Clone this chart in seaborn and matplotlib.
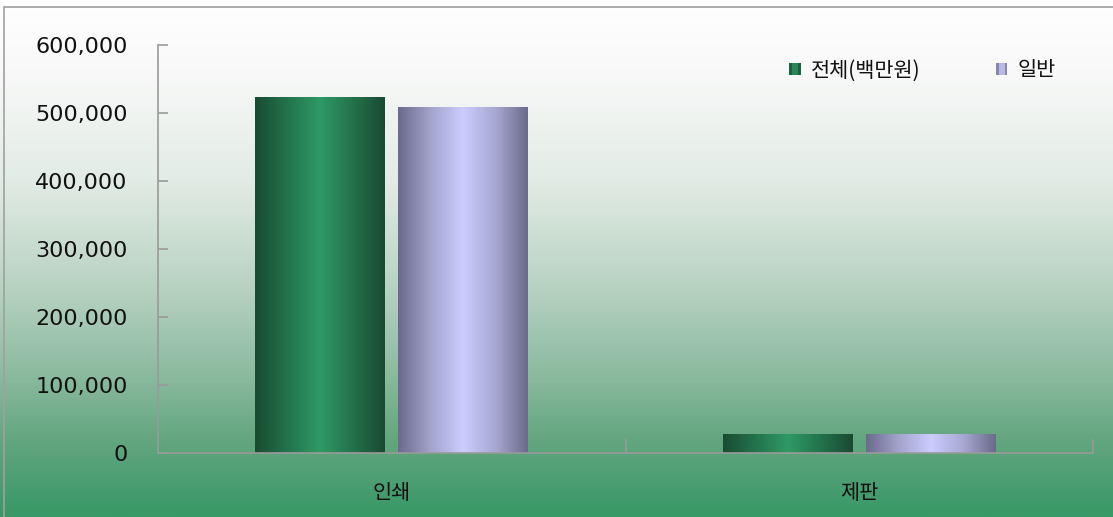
import numpy as np
import pandas as pd
import matplotlib
matplotlib.use("Agg")
import matplotlib.pyplot as plt
from matplotlib.colors import LinearSegmentedColormap
from matplotlib.patches import Rectangle, Patch
from matplotlib.legend_handler import HandlerBase
from matplotlib.ticker import FuncFormatter
import seaborn as sns

# Data (백만원)
categories = ["인쇄", "제판"]
series_names = ["전체(백만원)", "일반"]
total_values = [523500, 26500]
general_values = [508800, 26500]
y_ticks = [0, 100000, 200000, 300000, 400000, 500000, 600000]

df = pd.DataFrame({
    "category": categories * 2,
    "series": [series_names[0]] * 2 + [series_names[1]] * 2,
    "value": total_values + general_values,
})

sns.set_theme(style="white")
plt.rcParams["font.family"] = ["Noto Sans CJK KR", "DejaVu Sans"]

W, H = 1113, 517
fig = plt.figure(figsize=(W / 100, H / 100), dpi=100)

# Figure background: vertical white-to-green gradient
bg = fig.add_axes([0, 0, 1, 1], zorder=0)
bg_cmap = LinearSegmentedColormap.from_list(
    "bg",
    [(0.0, "#ffffff"), (0.15, "#f7f8f7"), (0.35, "#e2ebe5"),
     (0.55, "#b9d3c3"), (0.72, "#8dbba0"), (0.85, "#64a680"),
     (1.0, "#389866")],
)
grad = np.linspace(0, 1, 512).reshape(-1, 1)
bg.imshow(grad, aspect="auto", cmap=bg_cmap, extent=[0, 1, 0, 1], origin="upper")
bg.set_xlim(0, 1)
bg.set_ylim(0, 1)
bg.axis("off")
# outer frame
bg.add_patch(Rectangle((4 / W, -0.1), 1.2, (H - 7) / H + 0.1, fill=False,
                       edgecolor="#a0a0a0", linewidth=1.2, transform=bg.transAxes))

left, right = 158 / W, 1093 / W
bottom, top = (H - 453) / H, (H - 45) / H
ax = fig.add_axes([left, bottom, right - left, top - bottom], zorder=1)
ax.patch.set_alpha(0)

palette = {series_names[0]: "#2e9966", series_names[1]: "#ccccff"}
sns.barplot(data=df, x="category", y="value", hue="series", order=categories,
            hue_order=series_names, palette=palette, width=0.611, gap=0.091,
            ax=ax, legend=False, saturation=1)

# Cylinder-style horizontal shading on each bar
shade_maps = {
    series_names[0]: LinearSegmentedColormap.from_list(
        "g", ["#1a4c33", "#23734c", "#2f9966", "#23734c", "#1a4a32"]),
    series_names[1]: LinearSegmentedColormap.from_list(
        "p", ["#6a6a8c", "#a3a3cc", "#ccccff", "#a8a8d2", "#6a6a8a"]),
}
hrow = np.linspace(0, 1, 256).reshape(1, -1)
patches = list(ax.patches)
for i, p in enumerate(patches):
    name = series_names[i // len(categories)]
    x0, y0 = p.get_x(), p.get_y()
    w, h = p.get_width(), p.get_height()
    ax.imshow(hrow, cmap=shade_maps[name], aspect="auto",
              extent=[x0, x0 + w, y0, y0 + h], zorder=2, interpolation="bilinear")
    p.set_visible(False)

ax.set_xlim(-0.5, 1.5)
ax.set_ylim(0, 600000)
ax.set_yticks(y_ticks)
ax.yaxis.set_major_formatter(FuncFormatter(lambda v, _: f"{int(v):,}"))
ax.set_xlabel("")
ax.set_ylabel("")

for s in ["top", "right"]:
    ax.spines[s].set_visible(False)
for s in ["left", "bottom"]:
    ax.spines[s].set_color("#9a9a9a")
    ax.spines[s].set_linewidth(1.2)

ax.tick_params(axis="y", direction="in", length=7, width=1.2, color="#9a9a9a",
               labelsize=16, labelcolor="#111111", pad=22, left=True)
for lbl in ax.get_yticklabels():
    lbl.set_family("DejaVu Sans")
ax.set_xticks(range(len(categories)))
ax.set_xticklabels(categories)
ax.tick_params(axis="x", length=0, labelsize=15, labelcolor="#111111", pad=21)
ax.set_xticks([0.5, 1.5], minor=True)
ax.tick_params(axis="x", which="minor", direction="in", length=10, width=1.2,
               color="#9a9a9a", bottom=True)


class GradientSquare(HandlerBase):
    """Small square legend key filled with the bar's shading."""

    def __init__(self, cmap):
        super().__init__()
        self.cmap = cmap

    def create_artists(self, legend, orig_handle, xdescent, ydescent, width,
                       height, fontsize, trans):
        n = 4
        size = height * 0.8
        x0 = xdescent + (width - size) / 2
        y0 = ydescent + (height - size) / 2
        arts = []
        for k in range(n):
            c = self.cmap((k + 0.5) / n)
            arts.append(Rectangle((x0 + k * size / n, y0), size / n, size,
                                  facecolor=c, edgecolor="none", transform=trans))
        return arts


handles = [Patch(label=n) for n in series_names]
leg = fig.legend(handles=handles, labels=series_names,
                 handler_map={handles[0]: GradientSquare(shade_maps[series_names[0]]),
                              handles[1]: GradientSquare(shade_maps[series_names[1]])},
                 loc="upper left", bbox_to_anchor=(779 / W, (H - 51) / H),
                 ncol=2, frameon=False, fontsize=15, handlelength=0.75,
                 handletextpad=0.4, columnspacing=3.5, borderaxespad=0)
for t in leg.get_texts():
    t.set_color("#111111")

fig.savefig("out.png", dpi=100)
